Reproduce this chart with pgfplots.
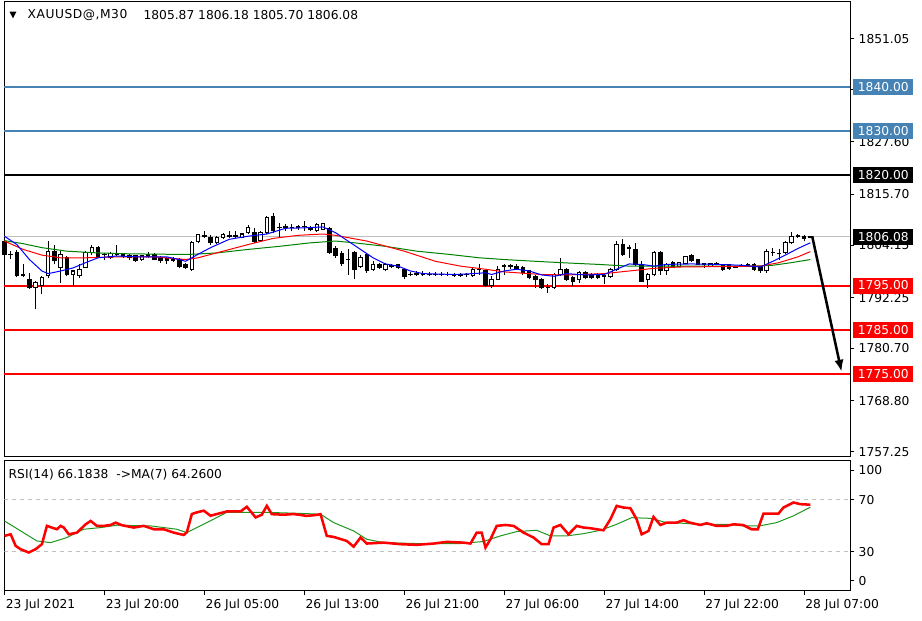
\documentclass[border=0pt]{standalone}
\usepackage{pgfplots}
\usepackage{pgfplotstable}
\pgfplotsset{compat=1.18}
\usepackage{fontspec}
\setmainfont{DejaVu Sans}
\usetikzlibrary{arrows.meta}

\definecolor{lvlblue}{RGB}{70,130,180}
\definecolor{pricegray}{RGB}{192,192,192}
\definecolor{magreen}{RGB}{0,128,0}
\definecolor{rsigreen}{RGB}{30,150,30}
\newcommand{\tfont}{\fontsize{9.2}{11}\selectfont}

% bar index, open, high, low, close (M30, from 23 Jul 12:00)
\pgfplotstableread{
i o h l c
0 1805.1 1805.8 1801.7 1802.1
1 1802.1 1802.8 1801.0 1802.0
2 1802.6 1803.0 1797.0 1797.2
3 1797.4 1799.8 1797.0 1797.3
4 1796.4 1797.9 1794.2 1794.5
5 1794.5 1796.0 1789.6 1795.6
6 1794.9 1797.2 1793.0 1796.8
7 1797.2 1805.1 1796.8 1802.8
8 1802.8 1804.3 1799.8 1800.6
9 1799.0 1802.8 1795.6 1802.1
10 1801.3 1801.7 1797.1 1797.5
11 1797.5 1798.6 1794.9 1798.3
12 1797.2 1799.8 1796.8 1798.7
13 1799.0 1802.8 1799.0 1802.4
14 1802.4 1804.3 1802.0 1803.6
15 1803.6 1803.9 1801.3 1801.5
16 1802.1 1802.4 1800.9 1802.0
17 1801.3 1802.6 1801.0 1802.2
18 1802.0 1804.3 1801.6 1802.1
19 1802.1 1802.4 1801.2 1801.5
20 1801.9 1802.2 1800.9 1801.3
21 1801.7 1802.0 1800.4 1800.7
22 1800.9 1801.9 1800.6 1801.7
23 1802.1 1802.6 1801.2 1801.5
24 1802.0 1802.4 1800.7 1801.0
25 1801.3 1801.7 1800.2 1800.7
26 1801.2 1801.5 1800.0 1800.6
27 1801.1 1801.5 1800.3 1800.7
28 1800.9 1801.2 1799.0 1799.4
29 1799.8 1800.2 1798.7 1799.0
30 1798.7 1805.1 1798.3 1804.7
31 1804.9 1806.8 1804.6 1806.6
32 1806.3 1807.4 1805.8 1806.1
33 1806.0 1806.4 1804.3 1804.7
34 1804.7 1806.3 1804.4 1806.0
35 1805.8 1806.9 1805.5 1806.6
36 1806.2 1807.4 1805.8 1806.3
37 1806.3 1807.3 1805.8 1806.2
38 1806.0 1807.0 1805.7 1806.7
39 1807.0 1808.7 1806.6 1808.1
40 1807.0 1808.1 1804.7 1805.1
41 1805.2 1807.4 1805.1 1807.0
42 1807.0 1810.8 1806.6 1810.4
43 1810.7 1811.5 1807.0 1807.4
44 1808.1 1809.2 1805.8 1808.2
45 1808.2 1808.9 1807.4 1808.3
46 1808.2 1808.9 1807.4 1808.1
47 1808.2 1808.8 1807.6 1808.3
48 1808.4 1809.6 1807.4 1808.4
49 1808.1 1808.5 1807.3 1807.7
50 1807.5 1809.2 1807.2 1808.9
51 1807.8 1809.3 1807.5 1809.0
52 1808.0 1808.4 1802.2 1802.6
53 1803.4 1804.0 1801.3 1801.9
54 1802.3 1802.8 1799.4 1800.1
55 1801.0 1803.2 1797.5 1800.8
56 1802.4 1802.8 1796.4 1798.7
57 1799.4 1802.0 1799.0 1801.3
58 1802.0 1802.4 1797.9 1798.3
59 1798.7 1800.6 1798.3 1799.8
60 1799.8 1800.2 1798.7 1799.1
61 1798.7 1800.2 1798.4 1799.8
62 1799.4 1800.0 1799.0 1799.5
63 1799.8 1800.0 1798.7 1799.0
64 1798.7 1799.0 1796.4 1797.1
65 1797.5 1798.0 1797.1 1797.6
66 1797.6 1798.3 1797.2 1797.7
67 1797.7 1798.3 1797.1 1797.6
68 1797.5 1798.0 1797.1 1797.6
69 1797.6 1798.1 1797.2 1797.5
70 1797.5 1798.0 1797.1 1797.6
71 1797.6 1798.0 1797.2 1797.5
72 1797.4 1797.9 1797.0 1797.3
73 1797.3 1797.8 1797.0 1797.4
74 1797.4 1797.9 1797.0 1797.5
75 1797.2 1799.0 1797.0 1798.7
76 1798.7 1799.8 1797.5 1798.6
77 1798.3 1798.6 1794.6 1794.9
78 1794.9 1797.2 1794.5 1796.4
79 1796.4 1799.4 1796.2 1798.7
80 1799.4 1799.8 1797.5 1799.5
81 1799.5 1800.0 1798.7 1799.4
82 1799.4 1799.8 1798.6 1798.9
83 1799.0 1799.4 1797.5 1797.9
84 1798.3 1798.6 1796.4 1796.8
85 1797.1 1797.5 1794.5 1796.4
86 1796.4 1796.8 1794.1 1794.5
87 1794.6 1795.3 1793.4 1794.5
88 1794.5 1797.9 1794.1 1797.5
89 1797.5 1801.3 1797.1 1798.7
90 1798.7 1799.0 1796.0 1796.4
91 1796.8 1797.1 1794.9 1796.0
92 1796.4 1798.3 1795.6 1797.9
93 1797.9 1798.3 1796.4 1796.8
94 1797.5 1797.9 1796.4 1796.8
95 1797.5 1797.9 1796.4 1796.8
96 1797.2 1797.5 1795.3 1797.1
97 1797.1 1799.0 1796.8 1798.7
98 1798.7 1805.1 1798.3 1804.3
99 1804.3 1805.5 1801.7 1802.1
100 1803.6 1804.3 1801.3 1803.5
101 1803.2 1804.7 1799.4 1799.8
102 1799.8 1800.6 1796.0 1796.0
103 1796.4 1797.9 1794.5 1797.5
104 1797.5 1802.8 1797.1 1802.4
105 1802.4 1802.8 1797.5 1798.3
106 1798.3 1800.2 1797.5 1799.8
107 1800.2 1800.6 1799.0 1799.4
108 1799.4 1800.4 1799.1 1800.2
109 1799.9 1801.7 1799.8 1801.5
110 1801.7 1802.2 1800.4 1800.6
111 1800.9 1801.1 1799.6 1799.8
112 1799.8 1800.2 1799.0 1799.9
113 1799.4 1800.2 1799.2 1799.9
114 1799.9 1800.4 1799.6 1800.0
115 1799.8 1800.0 1798.4 1798.7
116 1799.8 1800.0 1798.6 1798.9
117 1799.2 1799.5 1798.9 1799.3
118 1799.4 1799.8 1799.1 1799.5
119 1799.6 1800.2 1799.2 1799.7
120 1799.8 1800.2 1798.3 1798.7
121 1799.2 1799.4 1797.9 1798.3
122 1798.3 1803.2 1797.9 1802.8
123 1802.6 1803.6 1801.7 1802.5
124 1802.3 1803.2 1800.9 1802.2
125 1802.4 1805.1 1802.2 1804.7
126 1804.7 1807.2 1804.5 1806.2
127 1806.2 1806.6 1805.8 1806.3
128 1806.2 1806.4 1805.1 1805.7
129 1805.87 1806.18 1805.70 1806.08
}\candles

\begin{document}
\begin{tikzpicture}

% ---------- price panel ----------
\begin{axis}[
  set layers,
  at={(3pt,123pt)}, anchor=south west,
  scale only axis, width=634.5pt, height=341.25pt,
  xmin=0, xmax=135.36, ymin=1756.1, ymax=1859.4,
  clip=false,
  axis line style={black, line width=0.75pt},
  xtick=\empty,
  ytick={1757.25,1768.80,1780.70,1792.25,1804.15,1815.70,1827.60,1839.50,1851.05},
  yticklabels={1757.25,1768.80,1780.70,1792.25,1804.15,1815.70,1827.60,1839.50,1851.05},
  ytick pos=right, yticklabel pos=right,
  tick align=outside, major tick length=3pt,
  every tick/.style={black, line width=0.75pt},
  tick label style={font=\tfont},
  candle/.style={draw=none, mark=none, forget plot,
    error bars/.cd, y dir=plus, y explicit, error mark=none},
]
% level lines
\addplot[lvlblue, line width=1.5pt] coordinates {(0,1840) (135.36,1840)};
\addplot[lvlblue, line width=1.5pt] coordinates {(0,1830) (135.36,1830)};
\addplot[black, line width=1.5pt] coordinates {(0,1820) (135.36,1820)};
\addplot[pricegray, line width=0.9pt] coordinates {(0,1806.08) (135.36,1806.08)};
\addplot[red, line width=1.5pt] coordinates {(0,1795) (135.36,1795)};
\addplot[red, line width=1.5pt] coordinates {(0,1785) (135.36,1785)};
\addplot[red, line width=1.5pt] coordinates {(0,1775) (135.36,1775)};

% candles: wicks, bodies, hollow bull bodies
\addplot[candle, error bar style={draw=black, line width=0.75pt, line cap=butt}]
  table[x=i, y=l, y error expr={\thisrow{h}-\thisrow{l}}] {\candles};
\addplot[candle, error bar style={draw=black, line width=3.4pt, line cap=butt}]
  table[x=i, y expr={min(\thisrow{o},\thisrow{c})-0.11}, y error expr={abs(\thisrow{c}-\thisrow{o})+0.23}] {\candles};
\addplot[candle, error bar style={draw=white, line width=1.9pt, line cap=butt}]
  table[x=i, y expr={\thisrow{o}+0.12}, y error expr={max(\thisrow{c}-\thisrow{o}-0.24,0)}] {\candles};

% moving averages
\addplot[magreen, line width=0.75pt] coordinates {
(0,1805.2) (3,1804.5) (6,1803.6) (10,1802.8) (15,1802.4) (20,1802.2) (26,1802.1) (30,1802.1)
(34,1802.4) (39,1803.2) (44,1803.9) (49,1804.7) (53,1805.1) (56,1804.7) (61,1803.9) (66,1802.8)
(71,1802.1) (76,1801.3) (80,1800.9) (85,1800.5) (89,1800.2) (95,1799.8) (100,1799.4) (110,1799.4)
(120,1799.4) (123,1799.6) (126,1800.2) (129,1800.9)};
\addplot[red, line width=0.75pt] coordinates {
(0,1805.1) (3,1803.2) (6,1801.9) (9,1801.3) (13,1801.3) (18,1801.5) (24,1801.5) (29,1800.9)
(31,1801.3) (35,1802.8) (39,1804.3) (43,1805.7) (47,1806.4) (51,1806.7) (53,1806.4) (58,1805.1)
(64,1802.8) (69,1800.5) (73,1799.4) (77,1798.7) (80,1798.1) (86,1797.5) (90,1797.4) (96,1797.7)
(100,1798.3) (104,1798.9) (108,1799.2) (114,1799.3) (121,1799.4) (124,1800.2) (127,1801.5) (129,1802.7)};
\addplot[blue, line width=0.75pt] coordinates {
(0,1806.2) (2,1804.3) (4,1800.9) (6,1798.3) (7,1797.7) (9,1798.3) (11,1799.0) (13,1800.2)
(15,1801.3) (18,1801.7) (22,1801.5) (26,1801.5) (28,1800.9) (29,1800.5) (31,1802.1) (33,1803.6)
(36,1805.5) (39,1806.2) (42,1806.7) (45,1808.0) (48,1808.1) (51,1808.3) (53,1807.0) (55,1805.1)
(57,1803.2) (59,1801.3) (61,1799.9) (63,1799.4) (65,1798.3) (67,1797.7) (72,1797.5) (75,1797.7)
(77,1797.9) (78,1797.5) (80,1798.3) (82,1798.7) (84,1798.3) (86,1797.4) (88,1797.1) (90,1797.7)
(93,1797.4) (96,1797.5) (98,1798.7) (100,1799.9) (102,1799.8) (104,1799.4) (106,1799.8) (110,1799.9)
(114,1799.8) (118,1799.6) (121,1799.2) (123,1800.5) (125,1801.9) (127,1803.4) (129,1804.7)};

% forecast arrow
\addplot[black, line width=1.9pt, -{Latex[length=9pt,width=7pt]}] coordinates {(129.3,1806.2) (134.0,1775.4)};

% level labels on the price scale
\begin{scope}[every node/.style={anchor=west, xshift=2.25pt, inner sep=0pt,
  minimum width=45pt, minimum height=12pt, text=white, font=\tfont}]
\node[fill=lvlblue] at (axis cs:135.36,1840) {1840.00};
\node[fill=lvlblue] at (axis cs:135.36,1830) {1830.00};
\node[fill=black] at (axis cs:135.36,1820) {1820.00};
\node[fill=black] at (axis cs:135.36,1806.08) {1806.08};
\node[fill=red] at (axis cs:135.36,1795) {1795.00};
\node[fill=red] at (axis cs:135.36,1785) {1785.00};
\node[fill=red] at (axis cs:135.36,1775) {1775.00};
\end{scope}
\end{axis}

% ---------- RSI panel ----------
\begin{axis}[
  at={(3pt,22.5pt)}, anchor=south west,
  scale only axis, width=634.5pt, height=97.5pt,
  xmin=0, xmax=135.36, ymin=0, ymax=100,
  axis line style={black, line width=0.75pt},
  xtick={0,16,...,128},
  xticklabels={23 Jul 2021,23 Jul 20:00,26 Jul 05:00,26 Jul 13:00,26 Jul 21:00,27 Jul 06:00,27 Jul 14:00,27 Jul 22:00,28 Jul 07:00},
  xtick pos=left,
  xticklabel style={anchor=north west, xshift=-2.5pt},
  ytick={7.5,30,70,92.5}, yticklabels={0,30,70,100},
  ytick pos=right, yticklabel pos=right,
  tick align=outside, major tick length=3pt,
  every tick/.style={black, line width=0.75pt},
  tick label style={font=\tfont},
]
\addplot[pricegray, line width=0.75pt, dash pattern=on 3pt off 3pt] coordinates {(0,70) (135.36,70)};
\addplot[pricegray, line width=0.75pt, dash pattern=on 3pt off 3pt] coordinates {(0,30) (135.36,30)};
\addplot[rsigreen, line width=0.75pt] coordinates {
(0,53.7) (2.6,46) (5.2,38.3) (7.4,37) (10,40.9) (12.7,47.3) (15.4,48.6) (18,50.4) (23.4,49.9)
(27.6,47.3) (29.2,44.7) (32.4,52.4) (35.6,60.3) (38.8,60.3) (42,60.3) (47.4,59.5) (50.6,58.9)
(52.7,52.4) (55.9,46) (58,39.6) (60.7,37) (66,36.3) (73,36.3) (76.7,37.9) (79.4,42.2) (82,45.5)
(85.2,46.5) (87.4,42.2) (90,42.2) (92.7,43.9) (95.4,46.5) (98,51.1) (100.4,56.2) (103.4,55.7)
(106,52.4) (108.7,51.9) (111.4,51.1) (115.6,51.1) (118.2,49.9) (120.9,49.9) (123.6,52.4)
(126.3,57.6) (129,64.3)};
\addplot[red, line width=1.9pt] coordinates {
(0,42.2) (1,43.4) (1.8,34.5) (2.6,31.9) (3.9,29.4) (5,32) (6,35.8) (6.8,49.9) (7.6,48.6) (8.4,47.3)
(9,49.9) (9.5,48.6) (10.3,43.4) (11.6,44.7) (13,51.1) (13.8,53.7) (14.8,49.9) (15.9,49.9) (17,50.6)
(17.8,52.4) (18.8,50.4) (20.7,48.6) (22.3,49.9) (23.9,47.3) (25.5,47.3) (27.1,44.7) (28.7,42.9)
(29.2,45) (30,59) (30.8,60.3) (31.9,61.6) (33,57.7) (34,59) (35.6,61) (37.8,61) (38.8,64.6)
(40.2,56.4) (41.2,58.5) (42,65.3) (42.8,58.9) (44.7,58.5) (46.3,59) (48.4,57.6) (49.8,58.2)
(50.6,58.9) (51.6,42.2) (52.7,41.4) (54.8,38.3) (55.9,33.9) (57,40.9) (58,36.3) (60.7,37)
(63.4,35.8) (66,35.3) (68.7,36.3) (70.8,37.6) (73.5,37) (74.6,36.3) (75.6,44.7) (76.4,44.7)
(77,33.2) (77.8,39.6) (78.8,49.9) (80.2,50.6) (81.5,49.9) (83.1,44.7) (84.7,40.9) (86,35.8)
(87.1,35.8) (87.9,48.6) (89,50.6) (90.3,43.4) (91.6,49.9) (92.7,48.6) (93.8,48.1) (94.8,47.3)
(95.9,46.5) (97,55) (98,65.3) (99.1,64) (100.2,63.5) (101.2,55) (102,43.4) (103.1,46) (103.9,56.8)
(105,50.6) (106,52.4) (107.6,52.4) (108.7,54.3) (109.7,52.4) (111.4,50.6) (112.4,51.9) (114,49.9)
(115.6,49.9) (116.7,51.1) (118.2,50.6) (119.6,47.3) (120.6,47.3) (121.5,59.3) (122.5,59.3)
(123.9,59.3) (124.7,64) (126.3,67.9) (127.4,66.6) (129,66.2)};
\end{axis}

% panel captions
\fill (6.8pt,457pt) -- (12pt,457pt) -- (9.4pt,452pt) -- cycle;
\node[anchor=west, inner sep=0pt, font=\tfont] at (20.25pt,454.5pt) {X\kern0.4ptA\kern0.4ptU\kern0.4ptU\kern0.4ptS\kern0.4ptD\kern0.4pt@\kern0.4pt,\kern0.4ptM\kern0.4pt3\kern0.4pt0};
\node[anchor=west, inner sep=0pt, font=\tfont] at (107.25pt,454.5pt) {1805.87 1806.18 1805.70 1806.08};
\node[anchor=west, inner sep=0pt, font=\tfont] at (6pt,109.5pt) {RSI(14) 66.1838\hspace{6pt}->MA(7) 64.2600};
\path (0,0) rectangle (691.5pt,465.75pt);
\end{tikzpicture}
\end{document}
